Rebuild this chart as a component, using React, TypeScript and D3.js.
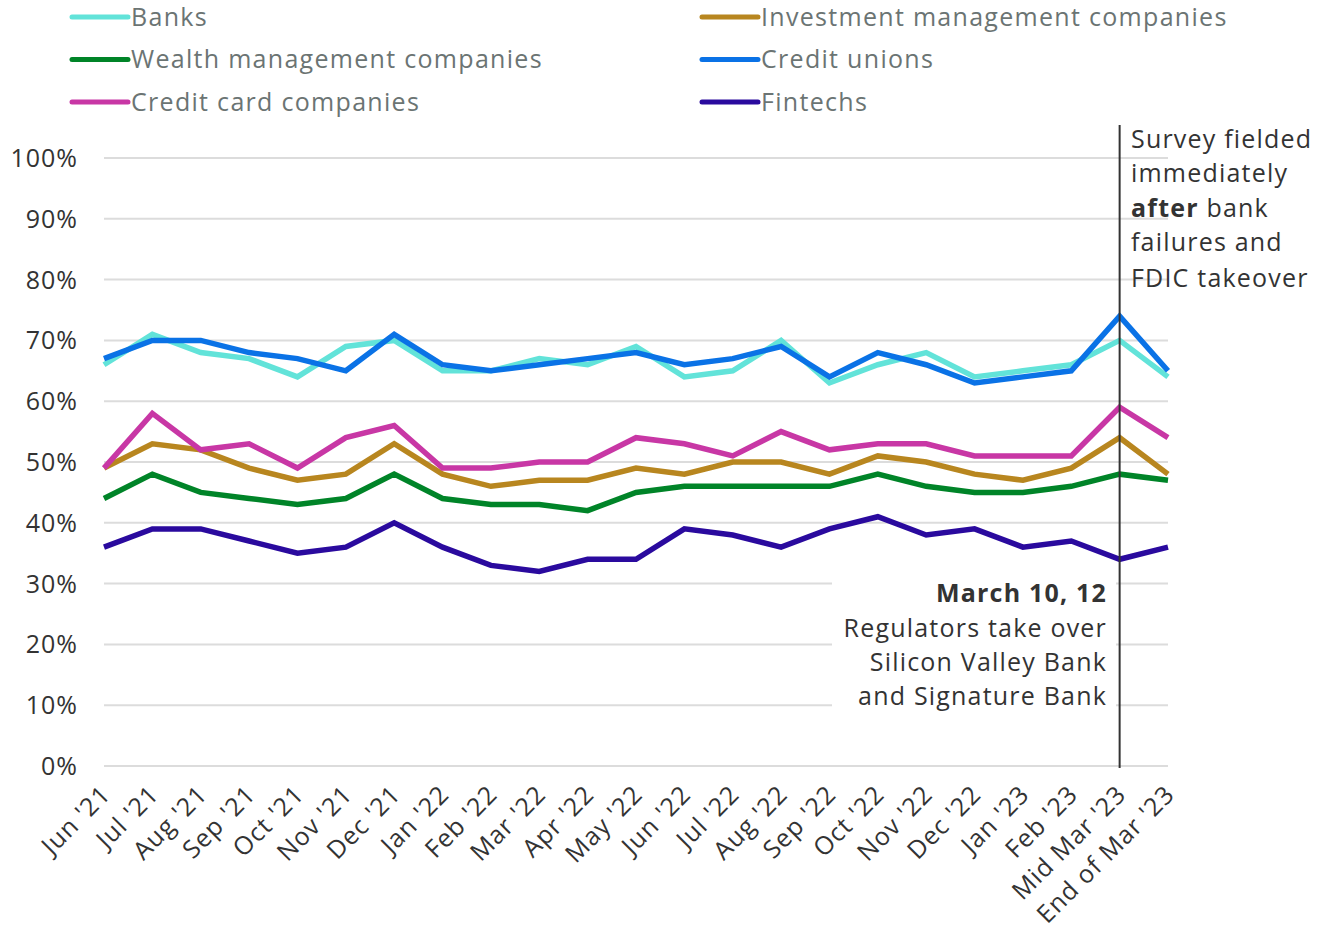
import React from "react";
import * as d3 from "d3";

const categories = ["Jun '21","Jul '21","Aug '21","Sep '21","Oct '21","Nov '21","Dec '21","Jan '22","Feb '22","Mar '22","Apr '22","May '22","Jun '22","Jul '22","Aug '22","Sep '22","Oct '22","Nov '22","Dec '22","Jan '23","Feb '23","Mid Mar '23","End of Mar '23"];

const banks = [66,71,68,67,64,69,70,65,65,67,66,69,64,65,70,63,66,68,64,65,66,70,64];
const investment = [49,53,52,49,47,48,53,48,46,47,47,49,48,50,50,48,51,50,48,47,49,54,48];
const wealth = [44,48,45,44,43,44,48,44,43,43,42,45,46,46,46,46,48,46,45,45,46,48,47];
const creditUnions = [67,70,70,68,67,65,71,66,65,66,67,68,66,67,69,64,68,66,63,64,65,74,65];
const creditCard = [49,58,52,53,49,54,56,49,49,50,50,54,53,51,55,52,53,53,51,51,51,59,54];
const fintechs = [36,39,39,37,35,36,40,36,33,32,34,34,39,38,36,39,41,38,39,36,37,34,36];

const yTicks = [0,10,20,30,40,50,60,70,80,90,100];

const series = [
  { name: "Banks", values: banks, color: "#62e3d9" },
  { name: "Investment management companies", values: investment, color: "#b8861f" },
  { name: "Wealth management companies", values: wealth, color: "#008428" },
  { name: "Credit unions", values: creditUnions, color: "#0a72e6" },
  { name: "Credit card companies", values: creditCard, color: "#c837a5" },
  { name: "Fintechs", values: fintechs, color: "#2a0a9e" },
];
const legendOrder = [
  ["Banks", "Investment management companies"],
  ["Wealth management companies", "Credit unions"],
  ["Credit card companies", "Fintechs"],
];

const FONT = "'Open Sans', Lato, sans-serif";

export default function App() {
  const W = 1319, H = 934;
  const x = d3.scalePoint<string>().domain(categories).range([104, 1168]);
  const y = d3.scaleLinear().domain([0, 100]).range([766, 158]);
  const line = d3.line<number>().x((_, i) => x(categories[i])!).y(d => y(d));
  const colorOf = (n: string) => series.find(s => s.name === n)!.color;
  const markX = x("Mid Mar '23")!;

  return (
    <svg width={W} height={H} style={{ position: "absolute", left: 0, top: 0, background: "#fff" }}>
      {/* legend */}
      {legendOrder.map((row, r) =>
        row.map((name, c) => {
          const lx = c === 0 ? 72 : 702;
          const ly = 17 + r * 42.5;
          return (
            <g key={name}>
              <line x1={lx} x2={lx + 56} y1={ly} y2={ly} stroke={colorOf(name)} strokeWidth={5} strokeLinecap="round" />
              <text x={lx + 59} y={ly} dy="0.34em" fontFamily={FONT} fontSize={25} letterSpacing={1.3} fill="#6b7473">{name}</text>
            </g>
          );
        })
      )}
      {/* grid */}
      {yTicks.map(t => (
        <g key={t}>
          <line x1={104} x2={1168} y1={y(t)} y2={y(t)} stroke="#dcdcdc" strokeWidth={2} />
          <text x={78} y={y(t)} dy="0.36em" textAnchor="end" fontFamily={FONT} fontSize={25} letterSpacing={1} fill="#333">{t}%</text>
        </g>
      ))}
      {/* white box behind bottom annotation */}
      <rect x={832} y={572} width={284} height={145} fill="#fff" />
      {/* lines */}
      {series.map(s => (
        <path key={s.name} d={line(s.values)!} fill="none" stroke={s.color} strokeWidth={5.5} strokeLinejoin="miter" />
      ))}
      {/* vertical marker */}
      <line x1={markX} x2={markX} y1={125} y2={768} stroke="#333" strokeWidth={2} />
      {/* top annotation */}
      <text fontFamily={FONT} fontSize={25} letterSpacing={1.2} fill="#333">
        <tspan x={1131} y={148}>Survey fielded</tspan>
        <tspan x={1131} y={182}>immediately</tspan>
        <tspan x={1131} y={217}><tspan fontWeight="bold">after</tspan> bank</tspan>
        <tspan x={1131} y={251}>failures and</tspan>
        <tspan x={1131} y={287}>FDIC takeover</tspan>
      </text>
      {/* bottom annotation */}
      <text fontFamily={FONT} fontSize={25} letterSpacing={1.2} fill="#333" textAnchor="end">
        <tspan x={1107} y={602} fontWeight="bold">March 10, 12</tspan>
        <tspan x={1107} y={637}>Regulators take over</tspan>
        <tspan x={1107} y={671}>Silicon Valley Bank</tspan>
        <tspan x={1107} y={705}>and Signature Bank</tspan>
      </text>
      {/* x labels */}
      {categories.map(c => (
        <text key={c} transform={`translate(${x(c)! + 8},${796}) rotate(-45)`} textAnchor="end" fontFamily={FONT} fontSize={25} letterSpacing={1} fill="#333">{c}</text>
      ))}
    </svg>
  );
}
